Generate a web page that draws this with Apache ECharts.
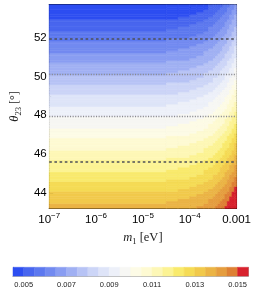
<!DOCTYPE html>
<html><head><meta charset="utf-8">
<script src="https://cdn.jsdelivr.net/npm/echarts@6/dist/echarts.min.js"></script>
<style>html,body{margin:0;padding:0;background:#fff}#c{width:254px;height:292px}</style>
</head><body><div id="c"></div>
<script>
// Sampling grid: column edges as log10(m1 / eV), row edges as theta23 in degrees
const m1EdgeExp = [-7, -4.5, -4.25, -4.0, -3.85, -3.7, -3.6, -3.5, -3.45, -3.4, -3.35, -3.3, -3.25, -3.2, -3.15, -3.1, -3.05, -3.0];
const theta23Edges = [43.2,43.325,43.45,43.575,43.7,43.825,43.95,44.075,44.2,44.325,44.45,44.575,44.7,44.825,44.95,45.075,45.2,45.325,45.45,45.575,45.7,45.825,45.95,46.075,46.2,46.325,46.45,46.575,46.7,46.825,46.95,47.075,47.2,47.325,47.45,47.575,47.7,47.825,47.95,48.075,48.2,48.325,48.45,48.575,48.7,48.825,48.95,49.075,49.2,49.325,49.45,49.575,49.7,49.825,49.95,50.075,50.2,50.325,50.45,50.575,50.7,50.825,50.95,51.075,51.2,51.325,51.45,51.575,51.7,51.825,51.95,52.075,52.2,52.325,52.45,52.575,52.7,52.825,52.95,53.075,53.2,53.325,53.45,53.575,53.7];
// Field values (eV), one row per theta23 band, bottom to top
const fieldRows = [
[0.013685,0.013765,0.013845,0.013955,0.014065,0.014205,0.014345,0.014465,0.014565,0.014675,0.014805,0.014935,0.015095,0.015265,0.015465,0.015685,0.015935],
[0.013573,0.013653,0.013733,0.013843,0.013953,0.014093,0.014233,0.014353,0.014453,0.014563,0.014693,0.014823,0.014983,0.015153,0.015353,0.015573,0.015823],
[0.013460,0.013540,0.013620,0.013730,0.013840,0.013980,0.014120,0.014240,0.014340,0.014450,0.014580,0.014710,0.014870,0.015040,0.015240,0.015460,0.015710],
[0.013348,0.013428,0.013508,0.013618,0.013728,0.013868,0.014008,0.014128,0.014228,0.014338,0.014468,0.014598,0.014758,0.014928,0.015128,0.015348,0.015598],
[0.013235,0.013315,0.013395,0.013505,0.013615,0.013755,0.013895,0.014015,0.014115,0.014225,0.014355,0.014485,0.014645,0.014815,0.015015,0.015235,0.015485],
[0.013123,0.013203,0.013283,0.013393,0.013503,0.013643,0.013783,0.013903,0.014003,0.014113,0.014243,0.014373,0.014533,0.014703,0.014903,0.015123,0.015373],
[0.013010,0.013090,0.013170,0.013280,0.013390,0.013530,0.013670,0.013790,0.013890,0.014000,0.014130,0.014260,0.014420,0.014590,0.014790,0.015010,0.015260],
[0.012898,0.012978,0.013058,0.013168,0.013278,0.013418,0.013558,0.013678,0.013778,0.013888,0.014018,0.014148,0.014308,0.014478,0.014678,0.014898,0.015148],
[0.012785,0.012865,0.012945,0.013055,0.013165,0.013305,0.013445,0.013565,0.013665,0.013775,0.013905,0.014035,0.014195,0.014365,0.014565,0.014785,0.015035],
[0.012673,0.012753,0.012833,0.012943,0.013053,0.013193,0.013333,0.013453,0.013553,0.013663,0.013793,0.013923,0.014083,0.014253,0.014453,0.014673,0.014923],
[0.012560,0.012640,0.012720,0.012830,0.012940,0.013080,0.013220,0.013340,0.013440,0.013550,0.013680,0.013810,0.013970,0.014140,0.014340,0.014560,0.014810],
[0.012448,0.012528,0.012608,0.012718,0.012828,0.012968,0.013108,0.013228,0.013328,0.013438,0.013568,0.013698,0.013858,0.014028,0.014228,0.014448,0.014698],
[0.012335,0.012415,0.012495,0.012605,0.012715,0.012855,0.012995,0.013115,0.013215,0.013325,0.013455,0.013585,0.013745,0.013915,0.014115,0.014335,0.014585],
[0.012223,0.012303,0.012383,0.012493,0.012603,0.012743,0.012883,0.013003,0.013103,0.013213,0.013343,0.013473,0.013633,0.013803,0.014003,0.014223,0.014473],
[0.012110,0.012190,0.012270,0.012380,0.012490,0.012630,0.012770,0.012890,0.012990,0.013100,0.013230,0.013360,0.013520,0.013690,0.013890,0.014110,0.014360],
[0.011998,0.012078,0.012158,0.012268,0.012378,0.012518,0.012658,0.012778,0.012878,0.012988,0.013118,0.013248,0.013408,0.013578,0.013778,0.013998,0.014248],
[0.011885,0.011965,0.012045,0.012155,0.012265,0.012405,0.012545,0.012665,0.012765,0.012875,0.013005,0.013135,0.013295,0.013465,0.013665,0.013885,0.014135],
[0.011773,0.011853,0.011933,0.012043,0.012153,0.012293,0.012433,0.012553,0.012653,0.012763,0.012893,0.013023,0.013183,0.013353,0.013553,0.013773,0.014023],
[0.011660,0.011740,0.011820,0.011930,0.012040,0.012180,0.012320,0.012440,0.012540,0.012650,0.012780,0.012910,0.013070,0.013240,0.013440,0.013660,0.013910],
[0.011548,0.011628,0.011708,0.011818,0.011928,0.012068,0.012208,0.012328,0.012428,0.012538,0.012668,0.012798,0.012958,0.013128,0.013328,0.013548,0.013798],
[0.011435,0.011515,0.011595,0.011705,0.011815,0.011955,0.012095,0.012215,0.012315,0.012425,0.012555,0.012685,0.012845,0.013015,0.013215,0.013435,0.013685],
[0.011323,0.011403,0.011483,0.011593,0.011703,0.011843,0.011983,0.012103,0.012203,0.012313,0.012443,0.012573,0.012733,0.012903,0.013103,0.013323,0.013573],
[0.011210,0.011290,0.011370,0.011480,0.011590,0.011730,0.011870,0.011990,0.012090,0.012200,0.012330,0.012460,0.012620,0.012790,0.012990,0.013210,0.013460],
[0.011098,0.011178,0.011258,0.011368,0.011478,0.011618,0.011758,0.011878,0.011978,0.012088,0.012218,0.012348,0.012508,0.012678,0.012878,0.013098,0.013348],
[0.010985,0.011065,0.011145,0.011255,0.011365,0.011505,0.011645,0.011765,0.011865,0.011975,0.012105,0.012235,0.012395,0.012565,0.012765,0.012985,0.013235],
[0.010873,0.010953,0.011033,0.011143,0.011253,0.011393,0.011533,0.011653,0.011753,0.011863,0.011993,0.012123,0.012283,0.012453,0.012653,0.012873,0.013123],
[0.010760,0.010840,0.010920,0.011030,0.011140,0.011280,0.011420,0.011540,0.011640,0.011750,0.011880,0.012010,0.012170,0.012340,0.012540,0.012760,0.013010],
[0.010648,0.010728,0.010808,0.010918,0.011028,0.011168,0.011308,0.011428,0.011528,0.011638,0.011768,0.011898,0.012058,0.012228,0.012428,0.012648,0.012898],
[0.010535,0.010615,0.010695,0.010805,0.010915,0.011055,0.011195,0.011315,0.011415,0.011525,0.011655,0.011785,0.011945,0.012115,0.012315,0.012535,0.012785],
[0.010423,0.010503,0.010583,0.010693,0.010803,0.010943,0.011083,0.011203,0.011303,0.011413,0.011543,0.011673,0.011833,0.012003,0.012203,0.012423,0.012673],
[0.010310,0.010390,0.010470,0.010580,0.010690,0.010830,0.010970,0.011090,0.011190,0.011300,0.011430,0.011560,0.011720,0.011890,0.012090,0.012310,0.012560],
[0.010198,0.010278,0.010358,0.010468,0.010578,0.010718,0.010858,0.010978,0.011078,0.011188,0.011318,0.011448,0.011608,0.011778,0.011978,0.012198,0.012448],
[0.010085,0.010165,0.010245,0.010355,0.010465,0.010605,0.010745,0.010865,0.010965,0.011075,0.011205,0.011335,0.011495,0.011665,0.011865,0.012085,0.012335],
[0.009973,0.010053,0.010133,0.010243,0.010353,0.010493,0.010633,0.010753,0.010853,0.010963,0.011093,0.011223,0.011383,0.011553,0.011753,0.011973,0.012223],
[0.009860,0.009940,0.010020,0.010130,0.010240,0.010380,0.010520,0.010640,0.010740,0.010850,0.010980,0.011110,0.011270,0.011440,0.011640,0.011860,0.012110],
[0.009748,0.009828,0.009908,0.010018,0.010128,0.010268,0.010408,0.010528,0.010628,0.010738,0.010868,0.010998,0.011158,0.011328,0.011528,0.011748,0.011998],
[0.009635,0.009715,0.009795,0.009905,0.010015,0.010155,0.010295,0.010415,0.010515,0.010625,0.010755,0.010885,0.011045,0.011215,0.011415,0.011635,0.011885],
[0.009523,0.009603,0.009683,0.009793,0.009903,0.010043,0.010183,0.010303,0.010403,0.010513,0.010643,0.010773,0.010933,0.011103,0.011303,0.011523,0.011773],
[0.009410,0.009490,0.009570,0.009680,0.009790,0.009930,0.010070,0.010190,0.010290,0.010400,0.010530,0.010660,0.010820,0.010990,0.011190,0.011410,0.011660],
[0.009298,0.009378,0.009458,0.009568,0.009678,0.009818,0.009958,0.010078,0.010178,0.010288,0.010418,0.010548,0.010708,0.010878,0.011078,0.011298,0.011548],
[0.009185,0.009265,0.009345,0.009455,0.009565,0.009705,0.009845,0.009965,0.010065,0.010175,0.010305,0.010435,0.010595,0.010765,0.010965,0.011185,0.011435],
[0.009073,0.009153,0.009233,0.009343,0.009453,0.009593,0.009733,0.009853,0.009953,0.010063,0.010193,0.010323,0.010483,0.010653,0.010853,0.011073,0.011323],
[0.008960,0.009040,0.009120,0.009230,0.009340,0.009480,0.009620,0.009740,0.009840,0.009950,0.010080,0.010210,0.010370,0.010540,0.010740,0.010960,0.011210],
[0.008848,0.008928,0.009008,0.009118,0.009228,0.009368,0.009508,0.009628,0.009728,0.009838,0.009968,0.010098,0.010258,0.010428,0.010628,0.010848,0.011098],
[0.008735,0.008815,0.008895,0.009005,0.009115,0.009255,0.009395,0.009515,0.009615,0.009725,0.009855,0.009985,0.010145,0.010315,0.010515,0.010735,0.010985],
[0.008623,0.008703,0.008783,0.008893,0.009003,0.009143,0.009283,0.009403,0.009503,0.009613,0.009743,0.009873,0.010033,0.010203,0.010403,0.010623,0.010873],
[0.008510,0.008590,0.008670,0.008780,0.008890,0.009030,0.009170,0.009290,0.009390,0.009500,0.009630,0.009760,0.009920,0.010090,0.010290,0.010510,0.010760],
[0.008398,0.008478,0.008558,0.008668,0.008778,0.008918,0.009058,0.009178,0.009278,0.009388,0.009518,0.009648,0.009808,0.009978,0.010178,0.010398,0.010648],
[0.008285,0.008365,0.008445,0.008555,0.008665,0.008805,0.008945,0.009065,0.009165,0.009275,0.009405,0.009535,0.009695,0.009865,0.010065,0.010285,0.010535],
[0.008173,0.008253,0.008333,0.008443,0.008553,0.008693,0.008833,0.008953,0.009053,0.009163,0.009293,0.009423,0.009583,0.009753,0.009953,0.010173,0.010423],
[0.008060,0.008140,0.008220,0.008330,0.008440,0.008580,0.008720,0.008840,0.008940,0.009050,0.009180,0.009310,0.009470,0.009640,0.009840,0.010060,0.010310],
[0.007948,0.008028,0.008108,0.008218,0.008328,0.008468,0.008608,0.008728,0.008828,0.008938,0.009068,0.009198,0.009358,0.009528,0.009728,0.009948,0.010198],
[0.007835,0.007915,0.007995,0.008105,0.008215,0.008355,0.008495,0.008615,0.008715,0.008825,0.008955,0.009085,0.009245,0.009415,0.009615,0.009835,0.010085],
[0.007723,0.007803,0.007883,0.007993,0.008103,0.008243,0.008383,0.008503,0.008603,0.008713,0.008843,0.008973,0.009133,0.009303,0.009503,0.009723,0.009973],
[0.007610,0.007690,0.007770,0.007880,0.007990,0.008130,0.008270,0.008390,0.008490,0.008600,0.008730,0.008860,0.009020,0.009190,0.009390,0.009610,0.009860],
[0.007498,0.007578,0.007658,0.007768,0.007878,0.008018,0.008158,0.008278,0.008378,0.008488,0.008618,0.008748,0.008908,0.009078,0.009278,0.009498,0.009748],
[0.007385,0.007465,0.007545,0.007655,0.007765,0.007905,0.008045,0.008165,0.008265,0.008375,0.008505,0.008635,0.008795,0.008965,0.009165,0.009385,0.009635],
[0.007273,0.007353,0.007433,0.007543,0.007653,0.007793,0.007933,0.008053,0.008153,0.008263,0.008393,0.008523,0.008683,0.008853,0.009053,0.009273,0.009523],
[0.007160,0.007240,0.007320,0.007430,0.007540,0.007680,0.007820,0.007940,0.008040,0.008150,0.008280,0.008410,0.008570,0.008740,0.008940,0.009160,0.009410],
[0.007048,0.007128,0.007208,0.007318,0.007428,0.007568,0.007708,0.007828,0.007928,0.008038,0.008168,0.008298,0.008458,0.008628,0.008828,0.009048,0.009298],
[0.006935,0.007015,0.007095,0.007205,0.007315,0.007455,0.007595,0.007715,0.007815,0.007925,0.008055,0.008185,0.008345,0.008515,0.008715,0.008935,0.009185],
[0.006823,0.006903,0.006983,0.007093,0.007203,0.007343,0.007483,0.007603,0.007703,0.007813,0.007943,0.008073,0.008233,0.008403,0.008603,0.008823,0.009073],
[0.006710,0.006790,0.006870,0.006980,0.007090,0.007230,0.007370,0.007490,0.007590,0.007700,0.007830,0.007960,0.008120,0.008290,0.008490,0.008710,0.008960],
[0.006598,0.006678,0.006758,0.006868,0.006978,0.007118,0.007258,0.007378,0.007478,0.007588,0.007718,0.007848,0.008008,0.008178,0.008378,0.008598,0.008848],
[0.006485,0.006565,0.006645,0.006755,0.006865,0.007005,0.007145,0.007265,0.007365,0.007475,0.007605,0.007735,0.007895,0.008065,0.008265,0.008485,0.008735],
[0.006373,0.006453,0.006533,0.006643,0.006753,0.006893,0.007033,0.007153,0.007253,0.007363,0.007493,0.007623,0.007783,0.007953,0.008153,0.008373,0.008623],
[0.006260,0.006340,0.006420,0.006530,0.006640,0.006780,0.006920,0.007040,0.007140,0.007250,0.007380,0.007510,0.007670,0.007840,0.008040,0.008260,0.008510],
[0.006148,0.006228,0.006308,0.006418,0.006528,0.006668,0.006808,0.006928,0.007028,0.007138,0.007268,0.007398,0.007558,0.007728,0.007928,0.008148,0.008398],
[0.006035,0.006115,0.006195,0.006305,0.006415,0.006555,0.006695,0.006815,0.006915,0.007025,0.007155,0.007285,0.007445,0.007615,0.007815,0.008035,0.008285],
[0.005923,0.006003,0.006083,0.006193,0.006303,0.006443,0.006583,0.006703,0.006803,0.006913,0.007043,0.007173,0.007333,0.007503,0.007703,0.007923,0.008173],
[0.005810,0.005890,0.005970,0.006080,0.006190,0.006330,0.006470,0.006590,0.006690,0.006800,0.006930,0.007060,0.007220,0.007390,0.007590,0.007810,0.008060],
[0.005698,0.005778,0.005858,0.005968,0.006078,0.006218,0.006358,0.006478,0.006578,0.006688,0.006818,0.006948,0.007108,0.007278,0.007478,0.007698,0.007948],
[0.005585,0.005665,0.005745,0.005855,0.005965,0.006105,0.006245,0.006365,0.006465,0.006575,0.006705,0.006835,0.006995,0.007165,0.007365,0.007585,0.007835],
[0.005473,0.005553,0.005633,0.005743,0.005853,0.005993,0.006133,0.006253,0.006353,0.006463,0.006593,0.006723,0.006883,0.007053,0.007253,0.007473,0.007723],
[0.005360,0.005440,0.005520,0.005630,0.005740,0.005880,0.006020,0.006140,0.006240,0.006350,0.006480,0.006610,0.006770,0.006940,0.007140,0.007360,0.007610],
[0.005248,0.005328,0.005408,0.005518,0.005628,0.005768,0.005908,0.006028,0.006128,0.006238,0.006368,0.006498,0.006658,0.006828,0.007028,0.007248,0.007498],
[0.005135,0.005215,0.005295,0.005405,0.005515,0.005655,0.005795,0.005915,0.006015,0.006125,0.006255,0.006385,0.006545,0.006715,0.006915,0.007135,0.007385],
[0.005023,0.005103,0.005183,0.005293,0.005403,0.005543,0.005683,0.005803,0.005903,0.006013,0.006143,0.006273,0.006433,0.006603,0.006803,0.007023,0.007273],
[0.004910,0.004990,0.005070,0.005180,0.005290,0.005430,0.005570,0.005690,0.005790,0.005900,0.006030,0.006160,0.006320,0.006490,0.006690,0.006910,0.007160],
[0.004798,0.004878,0.004958,0.005068,0.005178,0.005318,0.005458,0.005578,0.005678,0.005788,0.005918,0.006048,0.006208,0.006378,0.006578,0.006798,0.007048],
[0.004685,0.004765,0.004845,0.004955,0.005065,0.005205,0.005345,0.005465,0.005565,0.005675,0.005805,0.005935,0.006095,0.006265,0.006465,0.006685,0.006935],
[0.004573,0.004653,0.004733,0.004843,0.004953,0.005093,0.005233,0.005353,0.005453,0.005563,0.005693,0.005823,0.005983,0.006153,0.006353,0.006573,0.006823],
[0.004460,0.004540,0.004620,0.004730,0.004840,0.004980,0.005120,0.005240,0.005340,0.005450,0.005580,0.005710,0.005870,0.006040,0.006240,0.006460,0.006710],
[0.004348,0.004428,0.004508,0.004618,0.004728,0.004868,0.005008,0.005128,0.005228,0.005338,0.005468,0.005598,0.005758,0.005928,0.006128,0.006348,0.006598]
];
// Contour levels and colours of the legend bar
const binEdges = [0.0045,0.005,0.0055,0.006,0.0065,0.007,0.0075,0.008,0.0085,0.009,0.0095,0.01,0.0105,0.011,0.0115,0.012,0.0125,0.013,0.0135,0.014,0.0145,0.015,0.0155];
const binColors = ['#2d4ef1','#4866ef','#5c78ef','#728af0','#899df2','#a0b0f3','#b7c3f5','#ccd5f7','#dee4f8','#edf0f9','#f7f7f4','#fdfbe6','#fefad2','#fdf7b6','#fcf394','#f9ea6c','#f5db55','#f1c94b','#ebb445','#e59d3e','#de8034','#d8222e'];
// Ticks
const xTickValues = [1e-7, 1e-6, 1e-5, 1e-4, 1e-3];
const xTickLabels = ['{b|10}{s|\u22127}', '{b|10}{s|\u22126}', '{b|10}{s|\u22125}', '{b|10}{s|\u22124}', '{b|0.001}'];
const yTickValues = [44, 46, 48, 50, 52];
const yMinorTickValues = [45, 47, 49, 51, 53];
const cbTickValues = [0.005, 0.007, 0.009, 0.011, 0.013, 0.015];
const cbTickLabels = ['0.005', '0.007', '0.009', '0.011', '0.013', '0.015'];
// Reference theta23 lines
const refLineTheta = [51.92, 50.09, 47.97, 45.59];
const refLineKind = ['dashed', 'dotted', 'dotted', 'dashed'];

const xMinorTickValues = [];
for (let e = -7; e < -3; e++) for (let k = 2; k <= 9; k++) xMinorTickValues.push(k * Math.pow(10, e));

function colorFor(v) {
  for (let k = 0; k < binColors.length; k++) if (v < binEdges[k + 1]) return binColors[k];
  return binColors[binColors.length - 1];
}

const cells = [];
for (let i = 0; i < fieldRows.length; i++) {
  for (let j = 0; j < fieldRows[i].length; j++) {
    cells.push([Math.pow(10, m1EdgeExp[j]), Math.pow(10, m1EdgeExp[j + 1]), theta23Edges[i], theta23Edges[i + 1], fieldRows[i][j]]);
  }
}
const cbCells = binColors.map((c, k) => [binEdges[k], binEdges[k + 1], k]);

const SANS = 'Liberation Sans';
const SERIF = 'Liberation Serif';
const blackLine = { show: true, lineStyle: { color: '#000', width: 1 } };
const cbLine = { show: true, lineStyle: { color: '#b4b4b4', width: 1 } };

const chart = echarts.init(document.getElementById('c'), null, { renderer: 'canvas' });
chart.setOption({
  animation: false,
  backgroundColor: '#fff',
  grid: [
    { left: 34.5, top: 4.7, width: 203.8, height: 203.6 },
    { left: 13, top: 267.3, width: 235.3, height: 8.7 }
  ],
  xAxis: [
    { gridIndex: 0, type: 'log', logBase: 10, min: 1e-7, max: 1e-3, position: 'bottom',
      axisLine: blackLine,
      axisTick: { show: true, inside: true, length: 4, lineStyle: { color: '#000' }, customValues: xTickValues },
      axisLabel: { show: true, customValues: xTickValues, margin: 3, color: '#000',
        formatter: function (v) {
          let best = 0, bd = 1e9;
          xTickValues.forEach((t, k) => { const d = Math.abs(Math.log10(v) - Math.log10(t)); if (d < bd) { bd = d; best = k; } });
          return xTickLabels[best];
        },
        rich: {
          b: { fontFamily: SANS, fontSize: 11.5, color: '#000', lineHeight: 15, verticalAlign: 'bottom' },
          s: { fontFamily: SANS, fontSize: 8, color: '#000', lineHeight: 9, verticalAlign: 'top' }
        }
      },
      splitLine: { show: false },
      name: '{i|m}{sub|1} [eV]', nameLocation: 'middle', nameGap: 20,
      nameTextStyle: { fontFamily: SERIF, fontSize: 12.5, color: '#222',
        rich: { i: { fontFamily: SERIF, fontStyle: 'italic', fontSize: 12.5, color: '#222' },
                sub: { fontFamily: SERIF, fontSize: 8.5, color: '#222', verticalAlign: 'bottom', padding: [0, 0, -2, 0] } } }
    },
    { gridIndex: 0, type: 'log', logBase: 10, min: 1e-7, max: 1e-3, position: 'top',
      axisLine: blackLine,
      axisTick: { show: true, inside: true, length: 4, lineStyle: { color: '#000' }, customValues: xTickValues },
      axisLabel: { show: false }, splitLine: { show: false } },
    { gridIndex: 0, type: 'log', logBase: 10, min: 1e-7, max: 1e-3, position: 'bottom',
      axisLine: { show: false },
      axisTick: { show: true, inside: true, length: 2, lineStyle: { color: '#000' }, customValues: xMinorTickValues },
      axisLabel: { show: false }, splitLine: { show: false } },
    { gridIndex: 0, type: 'log', logBase: 10, min: 1e-7, max: 1e-3, position: 'top',
      axisLine: { show: false },
      axisTick: { show: true, inside: true, length: 2, lineStyle: { color: '#000' }, customValues: xMinorTickValues },
      axisLabel: { show: false }, splitLine: { show: false } },
    { gridIndex: 1, type: 'value', min: 0.0045, max: 0.0155, position: 'bottom',
      axisLine: cbLine, axisTick: { show: false }, splitLine: { show: false },
      axisLabel: { show: true, customValues: cbTickValues, margin: 4.5, fontFamily: SANS, fontSize: 7.5, color: '#222',
        formatter: function (v) {
          let best = 0, bd = 1e9;
          cbTickValues.forEach((t, k) => { const d = Math.abs(v - t); if (d < bd) { bd = d; best = k; } });
          return cbTickLabels[best];
        } } },
    { gridIndex: 1, type: 'value', min: 0.0045, max: 0.0155, position: 'top',
      axisLine: cbLine, axisTick: { show: false }, axisLabel: { show: false }, splitLine: { show: false } }
  ],
  yAxis: [
    { gridIndex: 0, type: 'value', min: 43.2, max: 53.7, position: 'left',
      axisLine: blackLine,
      axisTick: { show: true, inside: true, length: 4, lineStyle: { color: '#000' }, customValues: yTickValues },
      axisLabel: { show: true, customValues: yTickValues, margin: 2.5, fontFamily: SANS, fontSize: 11.5, color: '#000' },
      splitLine: { show: false },
      name: '{i|\u03B8}{sub|23} [\u00B0]', nameLocation: 'middle', nameGap: 27, nameRotate: 90,
      nameTextStyle: { fontFamily: SERIF, fontSize: 12, color: '#222',
        rich: { i: { fontFamily: SERIF, fontStyle: 'italic', fontSize: 12.5, color: '#222' },
                sub: { fontFamily: SERIF, fontSize: 8.5, color: '#222', verticalAlign: 'bottom', padding: [0, 0, -2, 0] } } }
    },
    { gridIndex: 0, type: 'value', min: 43.2, max: 53.7, position: 'right',
      axisLine: blackLine,
      axisTick: { show: true, inside: true, length: 4, lineStyle: { color: '#000' }, customValues: yTickValues },
      axisLabel: { show: false }, splitLine: { show: false } },
    { gridIndex: 0, type: 'value', min: 43.2, max: 53.7, position: 'left',
      axisLine: { show: false },
      axisTick: { show: true, inside: true, length: 2, lineStyle: { color: '#000' }, customValues: yMinorTickValues },
      axisLabel: { show: false }, splitLine: { show: false } },
    { gridIndex: 0, type: 'value', min: 43.2, max: 53.7, position: 'right',
      axisLine: { show: false },
      axisTick: { show: true, inside: true, length: 2, lineStyle: { color: '#000' }, customValues: yMinorTickValues },
      axisLabel: { show: false }, splitLine: { show: false } },
    { gridIndex: 1, type: 'value', min: 0, max: 1, position: 'left',
      axisLine: cbLine, axisTick: { show: false }, axisLabel: { show: false }, splitLine: { show: false } },
    { gridIndex: 1, type: 'value', min: 0, max: 1, position: 'right',
      axisLine: cbLine, axisTick: { show: false }, axisLabel: { show: false }, splitLine: { show: false } }
  ],
  series: [
    {
      type: 'custom', xAxisIndex: 0, yAxisIndex: 0, silent: true, z: 1,
      encode: { x: [0, 1], y: [2, 3] },
      data: cells,
      renderItem: function (params, api) {
        const p0 = api.coord([api.value(0), api.value(2)]);
        const p1 = api.coord([api.value(1), api.value(3)]);
        const c = colorFor(api.value(4));
        return { type: 'rect', shape: { x: p0[0], y: p1[1], width: p1[0] - p0[0], height: p0[1] - p1[1] },
                 style: { fill: c, stroke: c, lineWidth: 0.6 } };
      },
      markLine: {
        silent: true, symbol: ['none', 'none'], label: { show: false }, animation: false,
        data: refLineTheta.map((t, k) => ({
          yAxis: t,
          lineStyle: refLineKind[k] === 'dashed'
            ? { type: [2.6, 2.6], width: 1.6, color: '#4d4f57' }
            : { type: [1.1, 1.5], width: 1.3, color: '#8a8a8e' }
        }))
      }
    },
    {
      type: 'custom', xAxisIndex: 4, yAxisIndex: 4, silent: true, z: 1,
      encode: { x: [0, 1] },
      data: cbCells,
      renderItem: function (params, api) {
        const p0 = api.coord([api.value(0), 0]);
        const p1 = api.coord([api.value(1), 1]);
        const c = binColors[api.value(2)];
        return { type: 'rect', shape: { x: p0[0], y: p1[1], width: p1[0] - p0[0], height: p0[1] - p1[1] },
                 style: { fill: c, stroke: c, lineWidth: 0.5 } };
      }
    }
  ]
});
</script></body></html>
